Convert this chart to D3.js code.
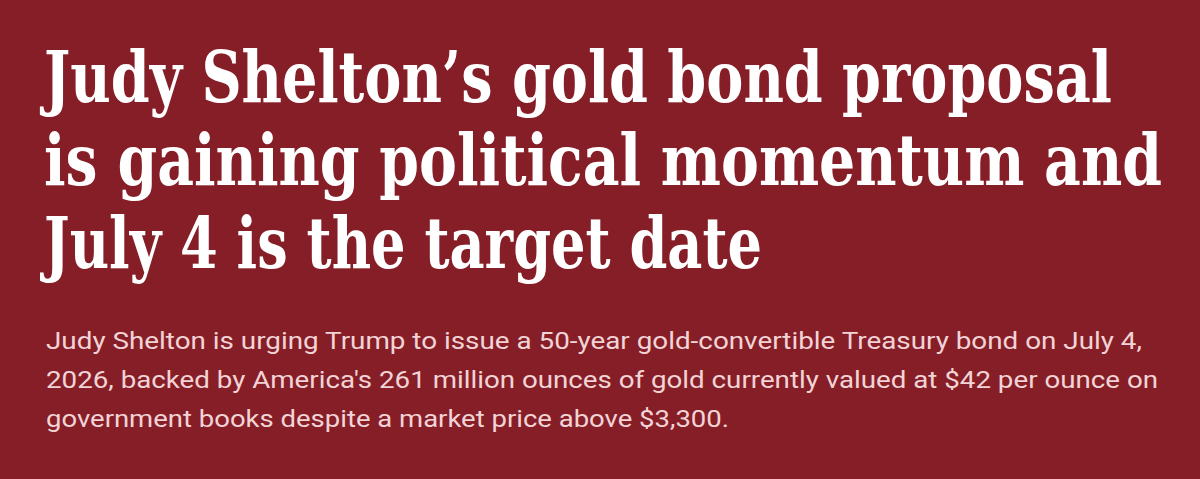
<!DOCTYPE html>
<html>
<head>
<meta charset="utf-8">
<script src="https://cdn.jsdelivr.net/npm/d3@7"></script>
<style>
  html, body { margin: 0; padding: 0; background: #861e27; }
  svg { display: block; }
</style>
</head>
<body>
<div id="card"></div>
<script>
// text content
var titleLines = [
  "Judy Shelton\u2019s gold bond proposal",
  "is gaining political momentum and",
  "July 4 is the target date"
];
var subtitleLines = [
  "Judy Shelton is urging Trump to issue a 50-year gold-convertible Treasury bond on July 4,",
  "2026, backed by America's 261 million ounces of gold currently valued at $42 per ounce on",
  "government books despite a market price above $3,300."
];

// layout
var w = 1200;
var h = 479;
var left = 44;
var titleRight = [1112, 1162, 762];   // where each headline line ends
var subRight = [1142, 1158, 729];

var svg = d3.select("#card")
            .append("svg")
            .attr("width", w)
            .attr("height", h);

svg.append("rect")
   .attr("width", w)
   .attr("height", h)
   .attr("fill", "#861e27");

// baselines come from a linear scale on line index
var yTitle = d3.scaleLinear().domain([0, 2]).range([102, 268]);
var ySub = d3.scaleLinear().domain([0, 2]).range([349, 427]);

svg.selectAll("text.title")
   .data(titleLines)
   .enter()
   .append("text")
   .attr("class", "title")
   .attr("x", left)
   .attr("y", function(d, i) { return yTitle(i); })
   .attr("font-family", "'DejaVu Serif', serif")
   .attr("font-weight", "bold")
   .attr("font-size", 71)
   .attr("fill", "#ffffff")
   .attr("textLength", function(d, i) { return titleRight[i] - left; })
   .attr("lengthAdjust", "spacingAndGlyphs")
   .text(function(d) { return d; });

svg.selectAll("text.sub")
   .data(subtitleLines)
   .enter()
   .append("text")
   .attr("class", "sub")
   .attr("x", left + 2)
   .attr("y", function(d, i) { return ySub(i); })
   .attr("font-family", "Roboto, sans-serif")
   .attr("font-size", 23)
   .attr("fill", "#f2d3d6")
   .attr("textLength", function(d, i) { return subRight[i] - left - 2; })
   .attr("lengthAdjust", "spacingAndGlyphs")
   .text(function(d) { return d; });
</script>
</body>
</html>
